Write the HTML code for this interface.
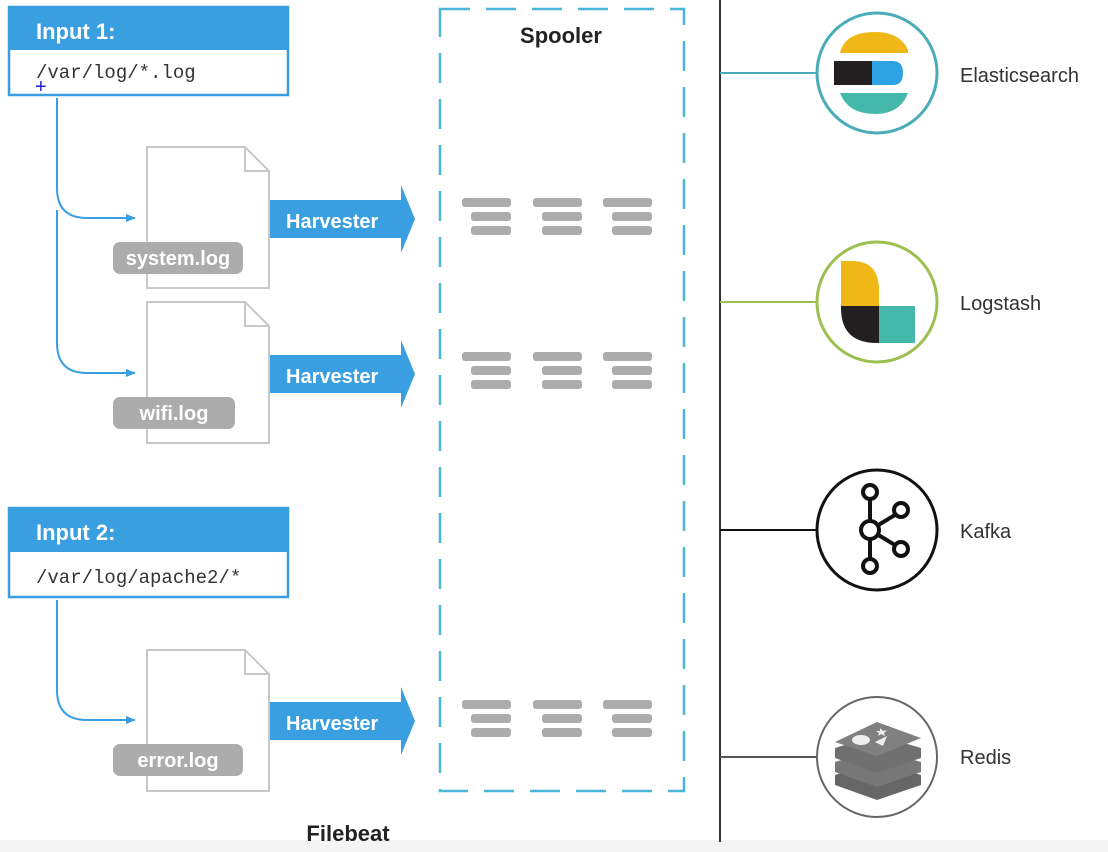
<!DOCTYPE html>
<html><head><meta charset="utf-8"><style>
html,body{margin:0;padding:0;background:#fff;width:1108px;height:852px;overflow:hidden}
svg text{font-family:"Liberation Sans",Arial,sans-serif}
.mono{font-family:"Liberation Mono",monospace}
</style></head><body>
<svg width="1108" height="852" viewBox="0 0 1108 852" xmlns="http://www.w3.org/2000/svg">
<defs>
<marker id="ah" markerWidth="10" markerHeight="10" refX="9" refY="5" orient="auto" markerUnits="userSpaceOnUse"><path d="M0,1 L10,5 L0,9 Z" fill="#3a9fe0"/></marker>
<g id="doc"><path d="M0,0 H98 L122,24 V141 H0 Z" fill="#fff" stroke="#c8c8c8" stroke-width="2"/><path d="M98,0 V24 H122" fill="none" stroke="#c8c8c8" stroke-width="2"/></g>
<g id="harv"><path d="M0,14 H131 V-1 L145,33 L131,67 V52 H0 Z" fill="#3a9fe0"/><text x="16" y="42" font-size="20" font-weight="bold" fill="#fff">Harvester</text></g>
<g id="bars" fill="#acacac"><rect x="0" y="0" width="49" height="9" rx="3"/><rect x="9" y="14" width="40" height="9" rx="3"/><rect x="9" y="28" width="40" height="9" rx="3"/></g>
</defs>
<rect x="0" y="840" width="1108" height="12" fill="#f4f4f4"/>
<!-- Input 1 -->
<rect x="9" y="7" width="279" height="88" fill="#fff" stroke="#3a9fe0" stroke-width="2.5"/>
<rect x="9" y="7" width="279" height="43" fill="#3a9fe0"/>
<text x="36" y="39" font-size="22" font-weight="bold" fill="#fff">Input 1:</text>
<text x="36" y="78" class="mono" font-size="19" fill="#333">/var/log/*.log</text>
<text x="35" y="93" font-size="20" fill="#2222cc">+</text>
<!-- Input 2 -->
<rect x="9" y="508" width="279" height="89" fill="#fff" stroke="#3a9fe0" stroke-width="2.5"/>
<rect x="9" y="508" width="279" height="44" fill="#3a9fe0"/>
<text x="36" y="540" font-size="22" font-weight="bold" fill="#fff">Input 2:</text>
<text x="36" y="583" class="mono" font-size="19" fill="#333">/var/log/apache2/*</text>
<!-- connectors -->
<g fill="none" stroke="#3a9fe0" stroke-width="2">
<path d="M57,98 V188 Q57,218 87,218 H135" marker-end="url(#ah)"/>
<path d="M57,210 V343 Q57,373 87,373 H135" marker-end="url(#ah)"/>
<path d="M57,600 V690 Q57,720 87,720 H135" marker-end="url(#ah)"/>
</g>
<!-- docs -->
<use href="#doc" x="147" y="147"/>
<use href="#doc" x="147" y="302"/>
<use href="#doc" x="147" y="650"/>
<rect x="113" y="242" width="130" height="32" rx="7" fill="#acacac"/>
<text x="178" y="265" font-size="20" font-weight="bold" fill="#fff" text-anchor="middle">system.log</text>
<rect x="113" y="397" width="122" height="32" rx="7" fill="#acacac"/>
<text x="174" y="420" font-size="20" font-weight="bold" fill="#fff" text-anchor="middle">wifi.log</text>
<rect x="113" y="744" width="130" height="32" rx="7" fill="#acacac"/>
<text x="178" y="767" font-size="20" font-weight="bold" fill="#fff" text-anchor="middle">error.log</text>
<use href="#harv" x="270" y="186"/>
<use href="#harv" x="270" y="341"/>
<use href="#harv" x="270" y="688"/>
<!-- spooler -->
<rect x="440" y="9" width="244" height="782" fill="none" stroke="#4ab6d8" stroke-width="2.5" stroke-dasharray="30,16"/>
<text x="561" y="43" font-size="22" font-weight="bold" fill="#222" text-anchor="middle">Spooler</text>
<use href="#bars" x="462" y="198"/><use href="#bars" x="533" y="198"/><use href="#bars" x="603" y="198"/>
<use href="#bars" x="462" y="352"/><use href="#bars" x="533" y="352"/><use href="#bars" x="603" y="352"/>
<use href="#bars" x="462" y="700"/><use href="#bars" x="533" y="700"/><use href="#bars" x="603" y="700"/>
<text x="348" y="841" font-size="22" font-weight="bold" fill="#222" text-anchor="middle">Filebeat</text>
<!-- right side -->
<line x1="720" y1="0" x2="720" y2="842" stroke="#333" stroke-width="2"/>
<line x1="720" y1="73" x2="818" y2="73" stroke="#4aacb8" stroke-width="2"/>
<line x1="720" y1="302" x2="818" y2="302" stroke="#9bc050" stroke-width="2"/>
<line x1="720" y1="530" x2="818" y2="530" stroke="#111" stroke-width="2"/>
<line x1="720" y1="757" x2="818" y2="757" stroke="#555" stroke-width="2"/>
<circle cx="877" cy="73" r="60" fill="#fff" stroke="#4aacb8" stroke-width="3"/>
<circle cx="877" cy="302" r="60" fill="#fff" stroke="#9bc050" stroke-width="3"/>
<circle cx="877" cy="530" r="60" fill="#fff" stroke="#111" stroke-width="3"/>
<circle cx="877" cy="757" r="60" fill="#fff" stroke="#666" stroke-width="2"/>
<!-- elastic logo -->
<path d="M840,53 Q845,32 875,32 Q900,32 908,50 L908,53 Z" fill="#f0b816"/>
<rect x="834" y="61" width="38" height="24" fill="#231f20"/>
<path d="M872,61 H893 Q903,61 903,73 Q903,85 893,85 H872 Z" fill="#2ea3e3"/>
<path d="M840,93 H908 Q900,114 875,114 Q848,114 840,93 Z" fill="#45b8ac"/>
<text x="960" y="82" font-size="20" fill="#333">Elasticsearch</text>
<!-- logstash -->
<path d="M841,261 H852 Q879,261 879,290 V306 H841 Z" fill="#f0b816"/>
<path d="M841,306 H879 V343 H877 Q841,343 841,308 Z" fill="#231f20"/>
<rect x="879" y="306" width="36" height="37" fill="#45b8ac"/>
<text x="960" y="310" font-size="20" fill="#333">Logstash</text>
<!-- kafka -->
<g fill="none" stroke="#111" stroke-width="4">
<line x1="870" y1="499" x2="870" y2="564"/><line x1="870" y1="530" x2="900" y2="512"/><line x1="870" y1="530" x2="900" y2="548"/>
<circle cx="870" cy="492" r="7" fill="#fff"/><circle cx="870" cy="530" r="9" fill="#fff"/><circle cx="870" cy="566" r="7" fill="#fff"/>
<circle cx="901" cy="510" r="7" fill="#fff"/><circle cx="901" cy="549" r="7" fill="#fff"/>
</g>
<text x="960" y="538" font-size="20" fill="#333">Kafka</text>
<!-- redis -->
<g fill="#666">
<path d="M835,775 L877,762 L921,775 L921,785 L877,800 L835,785 Z"/>
<path d="M835,762 L877,749 L921,762 L921,772 L877,787 L835,772 Z" fill="#777"/>
<path d="M835,748 L877,735 L921,748 L921,758 L877,773 L835,758 Z" fill="#707070"/>
<path d="M835,742 L877,722 L921,738 L877,756 Z" fill="#808080"/>
<ellipse cx="861" cy="740" rx="9" ry="5" fill="#eee"/><path d="M875,742 L887,736 L883,746 Z" fill="#eee"/><path d="M880,728 l3,3 l4,-1 l-3,3 l1,3 l-4,-2 l-3,2 l1,-3 l-3,-2 l4,0 Z" fill="#eee"/>
</g>
<text x="960" y="764" font-size="20" fill="#333">Redis</text>
</svg>
</body></html>
